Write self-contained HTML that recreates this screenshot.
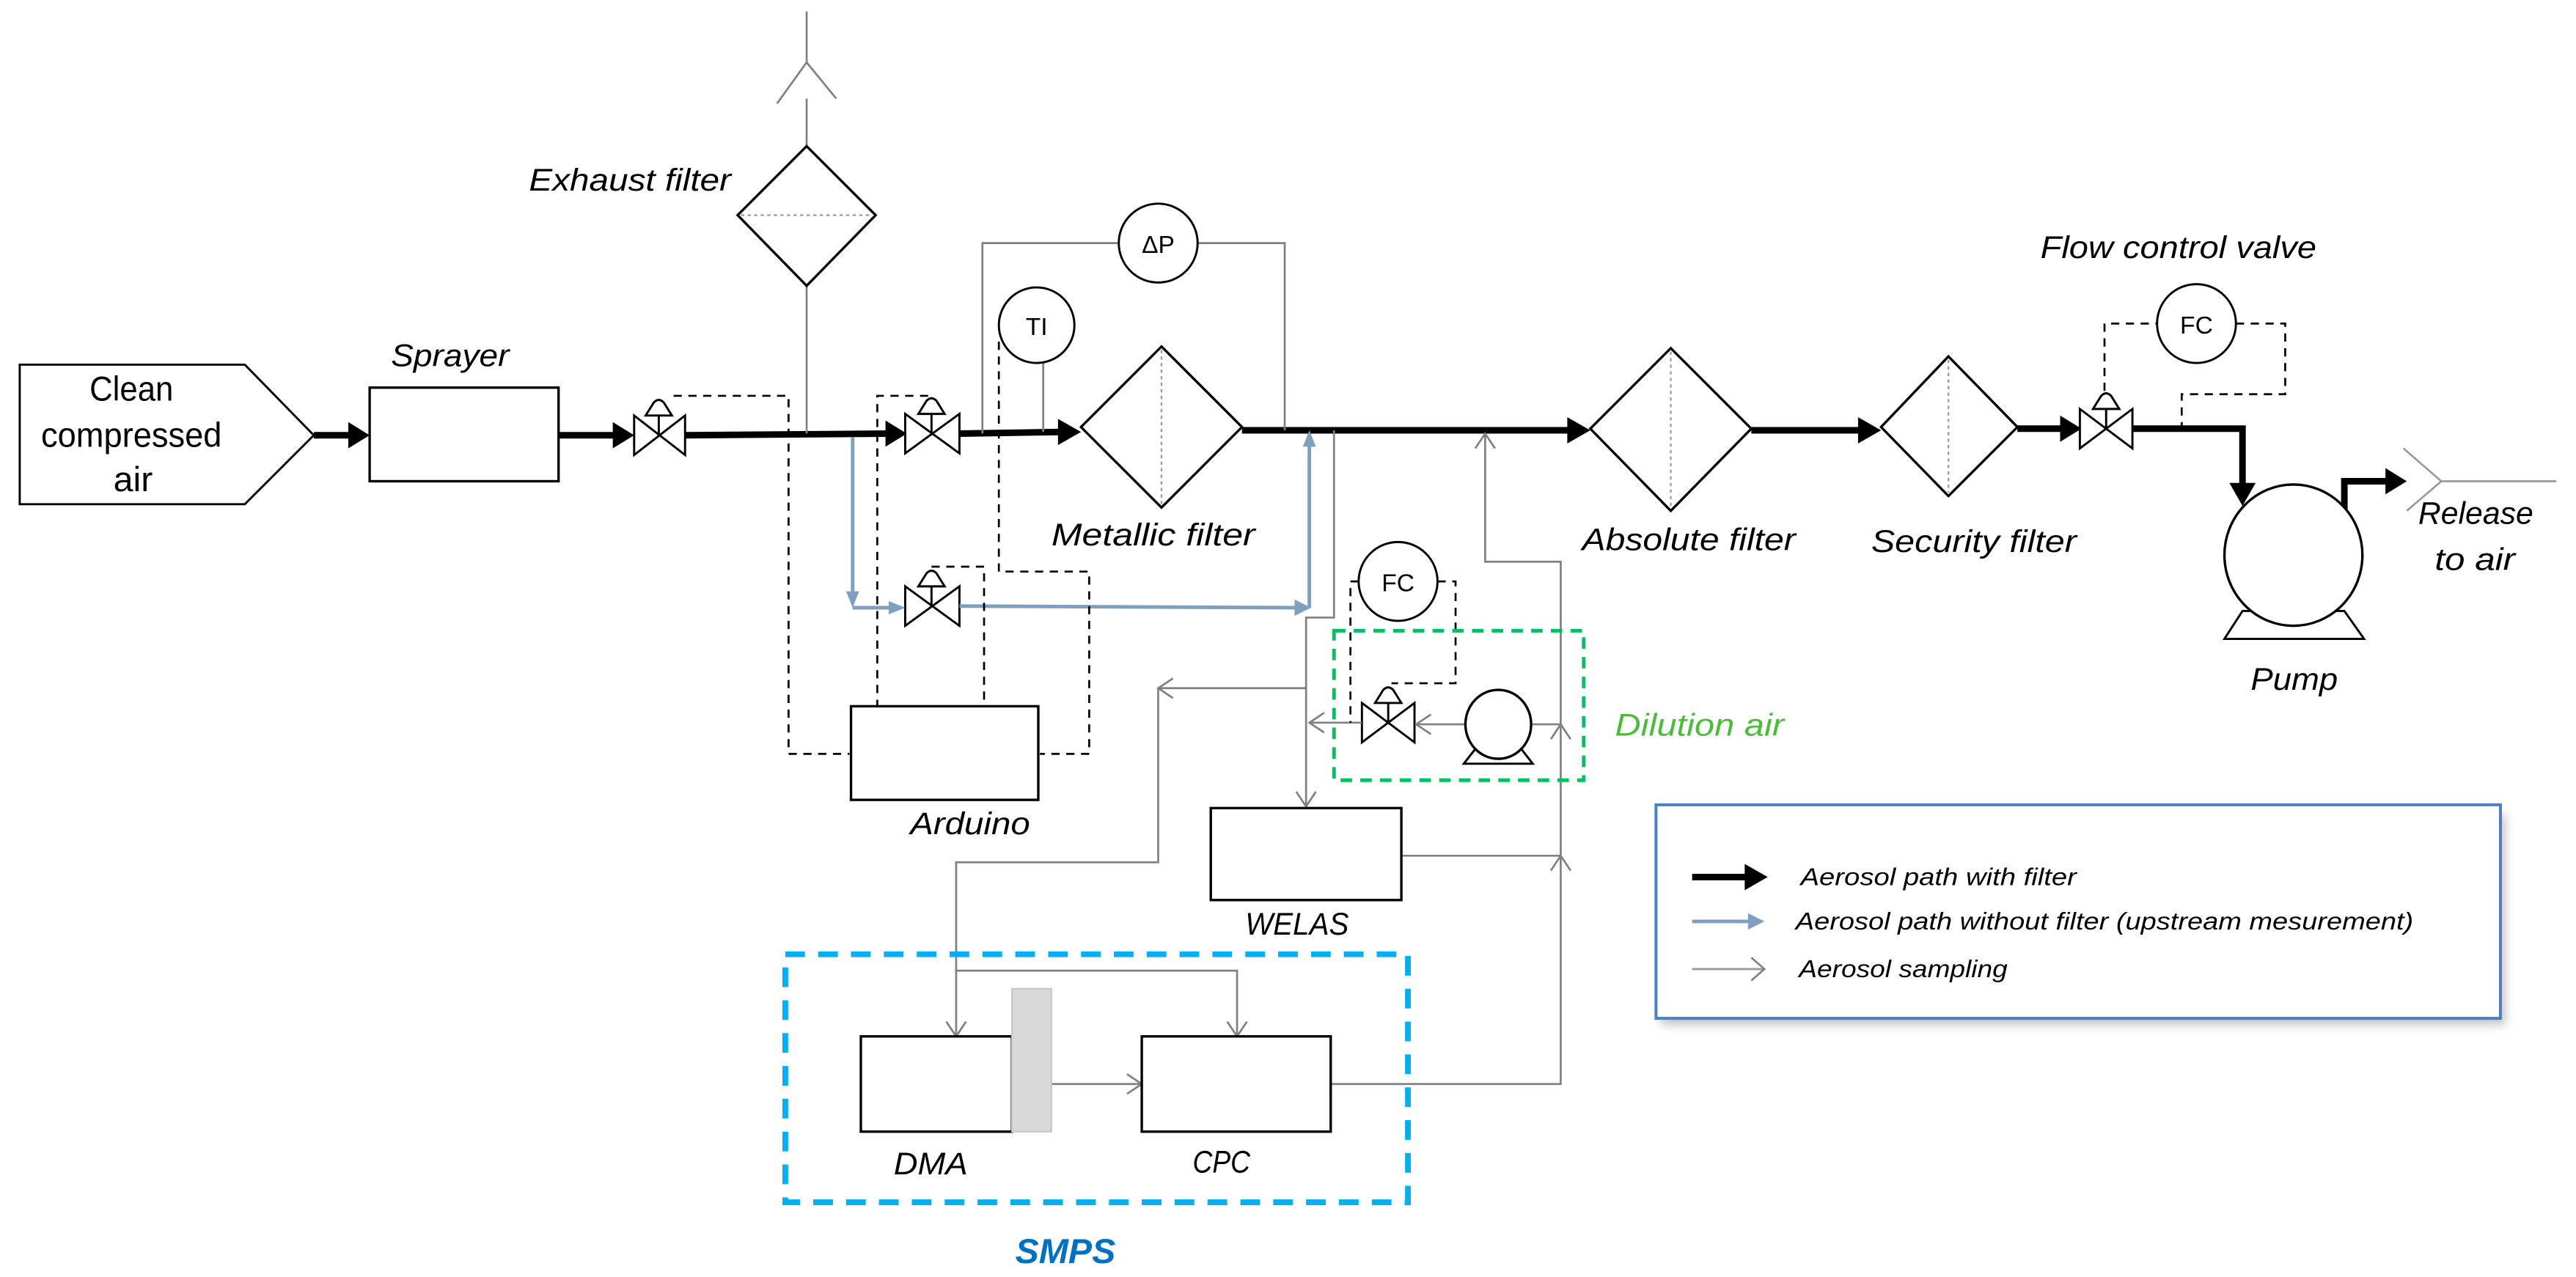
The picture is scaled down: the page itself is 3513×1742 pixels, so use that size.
<!DOCTYPE html>
<html><head><meta charset="utf-8"><style>html,body{margin:0;padding:0;background:#fff}svg{display:block}text{font-family:"Liberation Sans",sans-serif}</style></head>
<body>
<svg width="3513" height="1742" viewBox="0 0 1568 777.5" preserveAspectRatio="none" xmlns="http://www.w3.org/2000/svg">
<defs>
<filter id="sh" x="-5%" y="-5%" width="115%" height="130%"><feGaussianBlur stdDeviation="3"/></filter>
</defs>
<rect width="1568" height="778" fill="#fff"/>

<!-- Clean compressed air -->
<polygon points="12,222 149,222 191,265 149,307 12,307" fill="#fff" stroke="#000" stroke-width="1.3"/>
<text x="80" y="244" font-size="21" text-anchor="middle" textLength="51" lengthAdjust="spacingAndGlyphs">Clean</text>
<text x="80" y="272" font-size="21" text-anchor="middle" textLength="110" lengthAdjust="spacingAndGlyphs">compressed</text>
<text x="81" y="299" font-size="21" text-anchor="middle" textLength="24" lengthAdjust="spacingAndGlyphs">air</text>

<!-- thick main lines -->
<g stroke="#000" stroke-width="4" fill="none">
<line x1="191" y1="265" x2="214" y2="265"/>
<line x1="340" y1="265" x2="375" y2="265"/>
<line x1="417" y1="265" x2="541" y2="264"/>
<line x1="584" y1="264" x2="646" y2="263"/>
<line x1="756" y1="262" x2="956" y2="262"/>
<line x1="1066" y1="262" x2="1133" y2="262"/>
<line x1="1228" y1="261" x2="1256" y2="261"/>
<polyline points="1298,261 1365,261 1365,296"/>
<polyline points="1427,310 1427,293 1454,293"/>
</g>
<g fill="#000">
<polygon points="212,257 225,265 212,273"/>
<polygon points="373,257 386,265 373,273"/>
<polygon points="539,256 552,264 539,272"/>
<polygon points="644,255 658,263 644,271"/>
<polygon points="954,254 968,262 954,270"/>
<polygon points="1131,254 1145,262 1131,270"/>
<polygon points="1254,253 1267,261 1254,269"/>
<polygon points="1357,294 1365,308 1373,294"/>
<polygon points="1452,285 1465,293 1452,301"/>
</g>

<!-- Sprayer -->
<rect x="225" y="236" width="115" height="57" fill="#fff" stroke="#000" stroke-width="1.5"/>
<text x="238" y="223" font-size="19" font-style="italic" textLength="72" lengthAdjust="spacingAndGlyphs">Sprayer</text>

<!-- valves -->
<g stroke="#000" stroke-width="1.3" fill="#fff">
<polygon points="386,253 417,277 417,253 386,277"/>
<line x1="401" y1="265" x2="401" y2="253"/>
<path d="M393,253 L409,253 L404,245 Q401,242 398,245 Z"/>
<polygon points="551,252 584,276 584,252 551,276"/>
<line x1="567" y1="264" x2="567" y2="252"/>
<path d="M559,252 L575,252 L570,244 Q567,241 564,244 Z"/>
<polygon points="551,357 584,381 584,357 551,381"/>
<line x1="567" y1="369" x2="567" y2="357"/>
<path d="M559,357 L575,357 L570,349 Q567,346 564,349 Z"/>
<polygon points="1266,249 1298,273 1298,249 1266,273"/>
<line x1="1282" y1="261" x2="1282" y2="249"/>
<path d="M1274,249 L1290,249 L1285,241 Q1282,238 1279,241 Z"/>
<polygon points="829,428 861,452 861,428 829,452"/>
<line x1="845" y1="440" x2="845" y2="428"/>
<path d="M837,428 L853,428 L848,420 Q845,417 842,420 Z"/>
</g>

<!-- Exhaust filter -->
<g stroke="#808080" stroke-width="1.2" fill="none">
<line x1="491" y1="7" x2="491" y2="38"/>
<polyline points="473,63 491,38 509,60"/>
<line x1="491" y1="60" x2="491" y2="89"/>
<line x1="491" y1="174" x2="491" y2="264"/>
</g>
<polygon points="491,89 533,131 491,174 449,131" fill="#fff" stroke="#000" stroke-width="1.5"/>
<line x1="451" y1="131" x2="531" y2="131" stroke="#999" stroke-width="1" stroke-dasharray="2,2"/>
<text x="322" y="116" font-size="19" font-style="italic" textLength="123" lengthAdjust="spacingAndGlyphs">Exhaust filter</text>

<!-- ΔP and TI -->
<g stroke="#808080" stroke-width="1.2" fill="none">
<polyline points="598,264 598,148 681,148"/>
<polyline points="729,148 782,148 782,262"/>
<line x1="635" y1="221" x2="635" y2="263"/>
</g>
<circle cx="705" cy="148" r="24" fill="#fff" stroke="#000" stroke-width="1.3"/>
<text x="705" y="154" font-size="15" text-anchor="middle">ΔP</text>
<circle cx="631" cy="198" r="23" fill="#fff" stroke="#000" stroke-width="1.3"/>
<text x="631" y="204" font-size="15" text-anchor="middle">TI</text>

<!-- Metallic filter -->
<polygon points="707,211 756,260 707,309 658,260" fill="#fff" stroke="#000" stroke-width="1.5"/>
<line x1="707" y1="213" x2="707" y2="307" stroke="#999" stroke-width="1" stroke-dasharray="2,2"/>
<text x="640" y="332" font-size="19" font-style="italic" textLength="124" lengthAdjust="spacingAndGlyphs">Metallic filter</text>

<!-- Absolute filter -->
<polygon points="1017,212 1066,261 1017,311 968,261" fill="#fff" stroke="#000" stroke-width="1.5"/>
<line x1="1017" y1="214" x2="1017" y2="309" stroke="#999" stroke-width="1" stroke-dasharray="2,2"/>
<text x="963" y="335" font-size="19" font-style="italic" textLength="130" lengthAdjust="spacingAndGlyphs">Absolute filter</text>

<!-- Security filter -->
<polygon points="1186,217 1228,260 1186,302 1145,260" fill="#fff" stroke="#000" stroke-width="1.5"/>
<line x1="1186" y1="219" x2="1186" y2="300" stroke="#999" stroke-width="1" stroke-dasharray="2,2"/>
<text x="1139" y="336" font-size="19" font-style="italic" textLength="125" lengthAdjust="spacingAndGlyphs">Security filter</text>

<!-- Flow control valve -->
<text x="1242" y="157" font-size="19" font-style="italic" textLength="168" lengthAdjust="spacingAndGlyphs">Flow control valve</text>
<g stroke="#000" stroke-width="1.2" fill="none" stroke-dasharray="5,4">
<polyline points="1281,238 1281,197 1313,197"/>
<polyline points="1361,197 1391,197 1391,240 1328,240 1328,260"/>
</g>
<circle cx="1337" cy="197" r="24" fill="#fff" stroke="#000" stroke-width="1.3"/>
<text x="1337" y="203" font-size="15" text-anchor="middle">FC</text>

<!-- Pump -->
<polygon points="1365,372 1427,372 1439,389 1354,389" fill="#fff" stroke="#000" stroke-width="1.3"/>
<ellipse cx="1396" cy="338" rx="42" ry="43" fill="#fff" stroke="#000" stroke-width="1.5"/>
<text x="1370" y="420" font-size="19" font-style="italic" textLength="53" lengthAdjust="spacingAndGlyphs">Pump</text>
<g stroke="#999" stroke-width="1.2" fill="none">
<polyline points="1463,273 1486,293 1465,311"/>
<line x1="1486" y1="293" x2="1556" y2="293"/>
</g>
<text x="1472" y="319" font-size="19" font-style="italic" textLength="70" lengthAdjust="spacingAndGlyphs">Release</text>
<text x="1482" y="347" font-size="19" font-style="italic" textLength="49" lengthAdjust="spacingAndGlyphs">to air</text>

<!-- Blue path -->
<g stroke="#7f9fbf" stroke-width="2.2" fill="none">
<polyline points="519,266 519,362"/>
<polyline points="519,370 543,370"/>
<line x1="584" y1="369" x2="790" y2="370"/>
<line x1="797" y1="370" x2="797" y2="271"/>
</g>
<g fill="#7f9fbf">
<polygon points="515,360 519,370 523,360"/>
<polygon points="541,366 551,370 541,374"/>
<polygon points="788,365 798,370 788,375"/>
<polygon points="793,272 797,262 801,272"/>
</g>

<!-- Arduino -->
<g stroke="#000" stroke-width="1.2" fill="none" stroke-dasharray="5,4">
<polyline points="410,241 480,241 480,459 517,459"/>
<polyline points="565,241 534,241 534,430"/>
<polyline points="567,345 599,345 599,430"/>
<polyline points="608,208 608,348 663,348 663,459 633,459"/>
</g>
<rect x="518" y="430" width="114" height="57" fill="#fff" stroke="#000" stroke-width="1.5"/>
<text x="554" y="508" font-size="19" font-style="italic" textLength="73" lengthAdjust="spacingAndGlyphs">Arduino</text>

<!-- gray sampling network -->
<g stroke="#808080" stroke-width="1.2" fill="none">
<polyline points="812,262 812,376 795,376 795,490"/>
<line x1="795" y1="419" x2="706" y2="419"/>
<polyline points="705,419 705,525 582,525 582,630"/>
<polyline points="582,591 753,591 753,630"/>
<line x1="640" y1="660" x2="694" y2="660"/>
<polyline points="810,660 950,660 950,342 904,342 904,264"/>
<line x1="853" y1="521" x2="950" y2="521"/>
<line x1="932" y1="441" x2="950" y2="441"/>
<line x1="892" y1="441" x2="862" y2="441"/>
<line x1="829" y1="440" x2="797" y2="440"/>
<!-- chevrons -->
<polyline points="789,482 795,491 801,482"/>
<polyline points="714,413 705,419 714,425"/>
<polyline points="576,622 582,631 588,622"/>
<polyline points="747,622 753,631 759,622"/>
<polyline points="686,654 695,660 686,666"/>
<polyline points="898,273 904,264 910,273"/>
<polyline points="944,530 950,521 956,530"/>
<polyline points="944,450 950,441 956,450"/>
<polyline points="871,435 862,441 871,447"/>
<polyline points="806,434 797,440 806,446"/>
</g>

<!-- Dilution -->
<g stroke="#000" stroke-width="1.2" fill="none" stroke-dasharray="5,4">
<polyline points="827,354 822,354 822,440"/>
<polyline points="875,354 886,354 886,416 847,416"/>
</g>
<circle cx="851" cy="354" r="24" fill="#fff" stroke="#000" stroke-width="1.3"/>
<text x="851" y="360" font-size="15" text-anchor="middle">FC</text>
<polygon points="898,456 926,456 933,465 891,465" fill="#fff" stroke="#000" stroke-width="1.3"/>
<ellipse cx="912" cy="441" rx="20" ry="21" fill="#fff" stroke="#000" stroke-width="1.5"/>
<rect x="812" y="384" width="152" height="91" fill="none" stroke="#00c060" stroke-width="2.2" stroke-dasharray="7,5"/>
<text x="983" y="448" font-size="19" font-style="italic" fill="#4dbb3a" textLength="103" lengthAdjust="spacingAndGlyphs">Dilution air</text>

<!-- WELAS -->
<rect x="737" y="492" width="116" height="56" fill="#fff" stroke="#000" stroke-width="1.5"/>
<text x="758" y="569" font-size="19" font-style="italic" textLength="63" lengthAdjust="spacingAndGlyphs">WELAS</text>

<!-- SMPS -->
<rect x="478" y="581" width="379" height="151" fill="none" stroke="#00b0f0" stroke-width="3.5" stroke-dasharray="12,8"/>
<rect x="524" y="631" width="92" height="58" fill="#fff" stroke="#000" stroke-width="1.5"/>
<rect x="616" y="602" width="24" height="87" fill="#d9d9d9" stroke="#c8c8c8" stroke-width="1"/>
<rect x="695" y="631" width="115" height="58" fill="#fff" stroke="#000" stroke-width="1.5"/>
<text x="544" y="715" font-size="19" font-style="italic" textLength="45" lengthAdjust="spacingAndGlyphs">DMA</text>
<text x="726" y="714" font-size="19" font-style="italic" textLength="35" lengthAdjust="spacingAndGlyphs">CPC</text>
<text x="618" y="769" font-size="21" font-style="italic" font-weight="bold" fill="#0070c0" textLength="61" lengthAdjust="spacingAndGlyphs">SMPS</text>

<!-- Legend -->
<rect x="1011" y="496" width="514" height="128" fill="#888" opacity="0.5" filter="url(#sh)"/>
<rect x="1008" y="490" width="514" height="130" fill="#fff" stroke="#4f7fbf" stroke-width="1.8"/>
<line x1="1030" y1="534" x2="1064" y2="534" stroke="#000" stroke-width="4"/>
<polygon points="1062,526 1076,534 1062,542" fill="#000"/>
<line x1="1030" y1="561" x2="1066" y2="561" stroke="#7f9fbf" stroke-width="2.2"/>
<polygon points="1064,556 1074,561 1064,566" fill="#7f9fbf"/>
<line x1="1030" y1="590" x2="1073" y2="590" stroke="#999" stroke-width="1.3"/>
<polyline points="1066,583 1074,590 1066,597" fill="none" stroke="#808080" stroke-width="1.2"/>
<text x="1096" y="539" font-size="15" font-style="italic" textLength="168" lengthAdjust="spacingAndGlyphs">Aerosol path with filter</text>
<text x="1093" y="566" font-size="15" font-style="italic" textLength="376" lengthAdjust="spacingAndGlyphs">Aerosol path without filter (upstream mesurement)</text>
<text x="1095" y="595" font-size="15" font-style="italic" textLength="127" lengthAdjust="spacingAndGlyphs">Aerosol sampling</text>
</svg>
</body></html>
